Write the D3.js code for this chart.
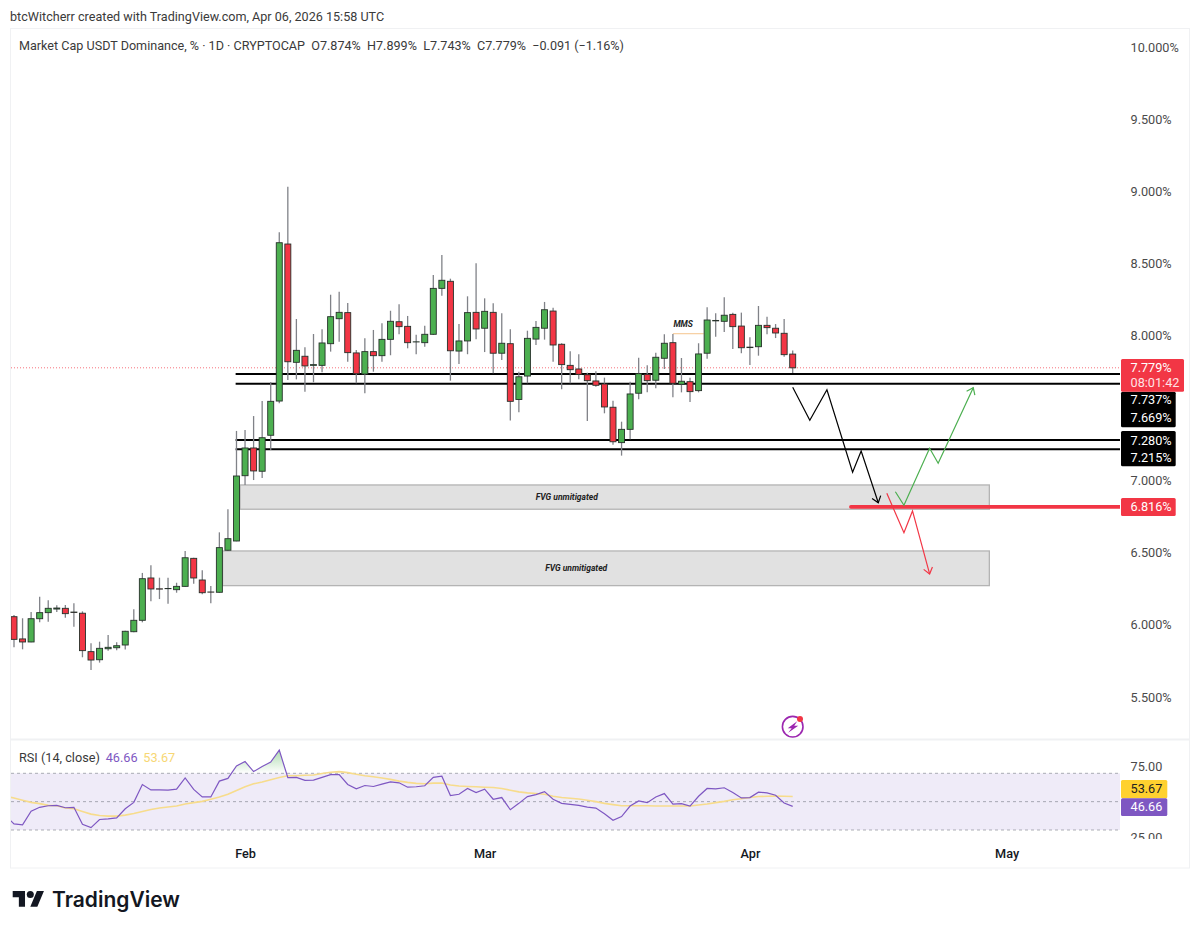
<!DOCTYPE html>
<html>
<head>
<meta charset="utf-8">
<script src="https://cdn.jsdelivr.net/npm/d3@7"></script>
<style>
    html, body { margin: 0; padding: 0; background: #fff; }
    text { font-family: Roboto, sans-serif; }
</style>
</head>
<body>
<svg id="chart" width="1200" height="931"></svg>
<script>
// ----- Candles, one per day from Jan 5 2026 ------------------------------
const opens = [
    6.056,5.902,5.881,6.042,6.084,6.109,6.114,6.088,6.080,5.814,
    5.758,5.834,5.841,5.860,5.952,6.031,6.324,6.249,6.250,6.243,
    6.266,6.460,6.310,6.227,6.225,6.516,6.580,7.032,7.224,7.063,
    7.312,7.549,8.636,7.817,7.859,7.796,7.796,7.946,8.119,8.161,
    7.882,7.736,7.891,7.863,7.976,8.098,8.066,7.958,7.953,8.011,
    8.329,8.378,7.895,7.965,8.163,8.053,8.163,7.880,7.946,7.560,
    7.722,7.978,8.053,8.172,7.942,7.796,7.771,7.731,7.688,7.667,
    7.506,7.261,7.353,7.603,7.734,7.693,7.845,7.953,7.665,7.683,
    7.621,7.880,8.104,8.101,8.149,8.068,7.922,7.925,8.073,8.053,
    8.018,7.874
];
const highs = [
    6.068,6.045,6.088,6.194,6.170,6.135,6.137,6.149,6.093,5.872,
    5.883,5.929,5.879,5.959,6.107,6.359,6.412,6.326,6.326,6.291,
    6.511,6.464,6.377,6.269,6.640,6.800,7.342,7.349,7.445,7.549,
    7.681,8.717,9.033,8.117,7.921,8.013,8.046,8.285,8.306,8.228,
    7.902,7.983,8.041,8.087,8.174,8.219,8.138,8.008,8.071,8.422,
    8.560,8.396,8.082,8.274,8.503,8.260,8.226,8.156,8.046,7.752,
    8.036,8.103,8.235,8.195,7.949,7.893,7.873,7.745,7.755,7.711,
    7.551,7.406,7.683,7.849,7.796,7.884,8.011,8.013,7.847,7.711,
    7.949,8.198,8.156,8.267,8.161,8.161,7.990,8.207,8.133,8.082,
    8.117,7.899
];
const lows = [
    5.844,5.830,5.879,6.017,6.021,6.088,6.049,5.987,5.775,5.687,
    5.738,5.821,5.823,5.828,5.948,6.017,6.163,6.178,6.146,6.222,
    6.264,6.284,6.211,6.149,6.222,6.513,6.578,6.968,7.002,7.016,
    7.210,7.533,7.695,7.699,7.614,7.679,7.748,7.891,7.960,7.821,
    7.672,7.603,7.752,7.821,7.866,8.011,7.914,7.873,7.925,8.006,
    8.278,7.690,7.805,7.873,7.976,7.888,7.741,7.833,7.414,7.472,
    7.672,7.937,7.974,7.821,7.630,7.672,7.699,7.411,7.648,7.464,
    7.247,7.171,7.284,7.561,7.609,7.637,7.771,7.575,7.609,7.542,
    7.609,7.842,7.994,8.027,7.909,7.880,7.798,7.863,8.011,7.985,
    7.856,7.743
];
const closes = [
    5.899,5.881,6.042,6.084,6.114,6.116,6.077,6.085,5.821,5.756,
    5.837,5.844,5.855,5.955,6.031,6.319,6.248,6.247,6.251,6.266,
    6.464,6.324,6.222,6.226,6.534,6.596,7.030,7.224,7.065,7.295,
    7.547,8.645,7.821,7.900,7.792,7.801,7.951,8.133,8.163,7.884,
    7.738,7.891,7.863,7.976,8.101,8.064,7.953,7.959,8.011,8.329,
    8.385,7.897,7.965,8.161,8.048,8.170,7.880,7.949,7.547,7.717,
    7.983,8.059,8.181,7.937,7.801,7.766,7.734,7.690,7.658,7.508,
    7.267,7.353,7.598,7.738,7.690,7.852,7.949,7.672,7.686,7.614,
    7.875,8.110,8.107,8.143,8.064,7.918,7.919,8.073,8.057,8.020,
    7.870,7.779
];

// first value of both belongs to the day before the first candle (clipped away by the pane)
const rsiValues = [
    40.2,34.3,33.6,43.3,46.0,47.1,47.4,45.7,46.0,34.0,31.7,
    37.4,37.9,38.6,45.0,49.5,62.1,58.3,58.3,58.1,58.8,
    66.7,58.6,53.3,53.3,64.5,66.4,75.2,78.3,71.2,74.8,
    77.9,86.4,66.9,67.1,65.0,65.2,67.1,69.0,69.0,62.1,
    59.0,61.4,60.7,62.4,64.0,63.3,60.2,60.5,61.2,67.1,
    67.9,54.3,55.2,59.3,56.4,58.8,51.7,52.9,44.3,48.8,
    53.6,55.0,57.1,51.7,48.8,48.1,47.4,46.2,45.5,41.4,
    36.9,39.5,46.9,50.5,49.3,53.3,55.7,48.3,48.6,46.9,
    53.8,59.3,59.0,59.8,56.4,52.6,52.9,56.7,56.2,54.5,
    49.0,46.66
];
const rsiMa = [
    53.8,52.6,51.0,49.5,48.6,47.4,47.1,45.5,45.0,43.1,41.2,
    40.2,39.8,39.8,40.5,41.7,43.1,44.5,45.5,46.2,46.9,
    48.3,49.3,50.2,51.7,53.3,55.2,57.9,60.5,62.6,63.8,
    65.5,67.1,68.3,68.3,68.6,68.8,69.8,70.7,71.2,70.5,
    69.3,68.3,67.6,66.7,65.7,64.5,63.6,62.9,62.6,63.1,
    63.1,61.7,61.0,60.7,60.5,60.2,60.0,59.3,58.1,56.9,
    56.2,55.7,55.2,53.8,52.9,52.4,51.9,51.0,50.0,48.8,
    47.9,47.1,47.1,47.1,47.1,46.9,46.9,46.9,46.9,46.9,
    47.6,48.3,49.3,50.2,51.4,52.1,52.9,53.6,53.8,54.0,
    53.8,53.67
];

// ----- Axis ticks -------
// 7.500% is not listed: in the picture it is hidden by the black price tags
const priceTicks = [5.5, 6, 6.5, 7, 8, 8.5, 9, 9.5, 10];
const rsiTicks = [25, 75];
const rsiBands = [70, 50, 30];
const monthNames = ["Feb", "Mar", "Apr", "May"];
const monthDays = [27, 55, 86, 116]; // days after Jan 5

// ----- Drawings (day index, price) -------
const levelPrices = [7.737, 7.669, 7.280, 7.215];
const supportPrice = 6.816;
const lastPrice = 7.779;

const fvgLabels = ["FVG unmitigated", "FVG unmitigated"];
const fvgStart = [26.41, 24.37];
const fvgEnd = [113.98, 113.98];
const fvgTop = [6.968, 6.511];
const fvgBottom = [6.800, 6.271];
const fvgLabelDay = [64.6, 65.7];

const blackDays = [91, 93, 95, 98, 99, 101];
const blackPrices = [7.644, 7.416, 7.627, 7.056, 7.203, 6.845];
const greenDays = [103, 104, 107, 108, 112.1];
const greenPrices = [6.921, 6.827, 7.222, 7.118, 7.641];
const redDays = [102, 104, 105, 107];
const redPrices = [6.910, 6.637, 6.788, 6.352];

const GREEN = "#4caf50";
const RED = "#f23645";
const PURPLE = "#7e57c2";
const YELLOW = "#ffd12f";
const TEXT_GREY = "#4a4a4a";
const AXIS_FONT = 12.7;

const PANE_LEFT = 11;
const PANE_RIGHT = 1120;

const x = d3.scaleLinear().domain([0, 91]).range([14, 792.7]);
const y = d3.scaleLinear().domain([10, 5.5]).range([47, 697]);
const rsiY = d3.scaleLinear().domain([70, 30]).range([773.3, 830]);

const svg = d3.select("#chart");
const defs = svg.append("defs");

defs.append("clipPath").attr("id", "priceClip").append("rect")
    .attr("x", PANE_LEFT).attr("y", 29).attr("width", PANE_RIGHT - PANE_LEFT).attr("height", 709);
defs.append("clipPath").attr("id", "rsiClip").append("rect")
    .attr("x", PANE_LEFT).attr("y", 741).attr("width", PANE_RIGHT - PANE_LEFT).attr("height", 98);
defs.append("clipPath").attr("id", "rsiAxisClip").append("rect")
    .attr("x", PANE_RIGHT).attr("y", 741).attr("width", 69).attr("height", 98);
defs.append("clipPath").attr("id", "overboughtClip").append("rect")
    .attr("x", PANE_LEFT).attr("y", 741).attr("width", PANE_RIGHT - PANE_LEFT).attr("height", rsiY(70) - 741);

const grad = defs.append("linearGradient").attr("id", "overboughtFill")
    .attr("gradientUnits", "userSpaceOnUse")
    .attr("x1", 0).attr("x2", 0).attr("y1", rsiY(90)).attr("y2", rsiY(70));
grad.append("stop").attr("offset", 0).attr("stop-color", GREEN).attr("stop-opacity", 0.55);
grad.append("stop").attr("offset", 1).attr("stop-color", GREEN).attr("stop-opacity", 0);

// ----- Frame -------
svg.append("rect")
    .attr("x", 10.5).attr("y", 28.5).attr("width", 1179).attr("height", 839.5)
    .attr("fill", "#fff").attr("stroke", "#f0f1f3");
svg.append("line")
    .attr("x1", 11).attr("x2", 1189).attr("y1", 739.5).attr("y2", 739.5)
    .attr("stroke", "#f0f1f3").attr("stroke-width", 2);

svg.append("text").attr("x", 10).attr("y", 21)
    .attr("font-size", 12.6).attr("fill", "#3a3a3a")
    .text("btcWitcherr created with TradingView.com, Apr 06, 2026 15:58 UTC");
svg.append("text").attr("x", 19).attr("y", 49.5)
    .attr("font-size", 12.6).attr("fill", "#3a3a3a")
    .attr("xml:space", "preserve")
    .text("Market Cap USDT Dominance, % \u00b7 1D \u00b7 CRYPTOCAP\u00a0\u00a0O7.874%\u00a0\u00a0H7.899%\u00a0\u00a0L7.743%\u00a0\u00a0C7.779%\u00a0\u00a0\u22120.091 (\u22121.16%)");

// ----- Price pane -------
const pricePane = svg.append("g").attr("clip-path", "url(#priceClip)");

pricePane.append("line")
    .attr("x1", PANE_LEFT).attr("x2", PANE_RIGHT)
    .attr("y1", y(lastPrice)).attr("y2", y(lastPrice))
    .attr("stroke", RED).attr("stroke-opacity", 0.7).attr("stroke-dasharray", "1,2");

pricePane.selectAll(".fvg")
    .data(fvgLabels)
    .enter().append("rect")
    .attr("class", "fvg")
    .attr("x", (d, i) => x(fvgStart[i]))
    .attr("width", (d, i) => x(fvgEnd[i]) - x(fvgStart[i]))
    .attr("y", (d, i) => y(fvgTop[i]))
    .attr("height", (d, i) => y(fvgBottom[i]) - y(fvgTop[i]))
    .attr("fill", "#e1e1e1").attr("stroke", "#b4b4b4").attr("stroke-width", 1.3);

pricePane.selectAll(".fvg-label")
    .data(fvgLabels)
    .enter().append("text")
    .attr("class", "fvg-label")
    .attr("x", (d, i) => x(fvgLabelDay[i]))
    .attr("y", (d, i) => (y(fvgTop[i]) + y(fvgBottom[i])) / 2)
    .attr("dy", ".35em")
    .attr("text-anchor", "middle")
    .attr("font-size", 8.5).attr("font-weight", 700).attr("font-style", "italic").attr("fill", "#222")
    .text(d => d);

pricePane.selectAll(".level")
    .data(levelPrices)
    .enter().append("line")
    .attr("class", "level")
    .attr("x1", x(25.9)).attr("x2", PANE_RIGHT + 1)
    .attr("y1", d => y(d)).attr("y2", d => y(d))
    .attr("stroke", "#000").attr("stroke-width", 2);

pricePane.append("line")
    .attr("x1", x(97.8)).attr("x2", PANE_RIGHT + 1)
    .attr("y1", y(supportPrice)).attr("y2", y(supportPrice))
    .attr("stroke", RED).attr("stroke-width", 3.6).attr("stroke-linecap", "round");

// MMS marker
pricePane.append("line")
    .attr("x1", x(77)).attr("x2", x(80.6))
    .attr("y1", y(8.015)).attr("y2", y(8.015))
    .attr("stroke", "#f5c48c").attr("stroke-width", 1);
pricePane.append("text")
    .attr("x", x(78.2)).attr("y", y(8.015) - 7)
    .attr("text-anchor", "middle")
    .attr("font-size", 8.5).attr("font-weight", 700).attr("font-style", "italic").attr("fill", "#222")
    .text("MMS");

function drawArrow(days, prices, color) {
    const pts = days.map((d, i) => [x(d), y(prices[i])]);
    pricePane.append("path")
        .attr("d", d3.line()(pts))
        .attr("fill", "none").attr("stroke", color).attr("stroke-width", 1.2);

    // arrow head, from the direction of the last leg
    const tip = pts[pts.length - 1];
    const prev = pts[pts.length - 2];
    const angle = Math.atan2(prev[1] - tip[1], prev[0] - tip[0]);
    const head = [-0.65, 0.65].map(a => [tip[0] + 7.5 * Math.cos(angle + a), tip[1] + 7.5 * Math.sin(angle + a)]);
    pricePane.append("path")
        .attr("d", d3.line()([head[0], tip, head[1]]))
        .attr("fill", "none").attr("stroke", color).attr("stroke-width", 1.2);
}
drawArrow(blackDays, blackPrices, "#000");
drawArrow(greenDays, greenPrices, GREEN);
drawArrow(redDays, redPrices, RED);

// candles sit on top of the drawings
const candles = pricePane.selectAll(".candle")
    .data(closes)
    .enter().append("g")
    .attr("class", "candle");

candles.append("line")
    .attr("x1", (d, i) => x(i)).attr("x2", (d, i) => x(i))
    .attr("y1", (d, i) => y(highs[i])).attr("y2", (d, i) => y(lows[i]))
    .attr("stroke", "#808288").attr("stroke-width", 1.3);

candles.append("rect")
    .attr("x", (d, i) => x(i) - 3)
    .attr("width", 6)
    .attr("y", (d, i) => y(Math.max(opens[i], closes[i])))
    .attr("height", (d, i) => Math.abs(y(opens[i]) - y(closes[i])))
    .attr("fill", (d, i) => closes[i] >= opens[i] ? GREEN : RED)
    .attr("stroke", "#26312a").attr("stroke-width", 0.9);

const priceAxis = d3.axisRight(y)
    .tickValues(priceTicks)
    .tickSize(0)
    .tickPadding(0)
    .tickFormat(d => d3.format(".3f")(d) + "%");

svg.append("g")
    .attr("transform", "translate(1130.5,0)")
    .call(priceAxis)
    .call(g => g.select(".domain").remove())
    .call(g => g.selectAll("text").attr("font-family", "Roboto").attr("font-size", AXIS_FONT).attr("fill", TEXT_GREY));

// ----- Price tags on the axis -------
function priceTag(top, bottom, right, fill, lines) {
    svg.append("rect")
        .attr("x", PANE_RIGHT + 1).attr("y", top)
        .attr("width", right - PANE_RIGHT - 1).attr("height", bottom - top)
        .attr("rx", 1.5)
        .attr("fill", fill);
    lines.forEach(l => {
        svg.append("text")
            .attr("x", 1130.5).attr("y", l.y).attr("dy", ".35em")
            .attr("font-size", AXIS_FONT).attr("fill", l.color || "#fff")
            .text(l.text);
    });
}
priceTag(391.7, 427.3, 1175.7, "#000", [{text: "7.737%", y: 400}, {text: "7.669%", y: 418}]);
priceTag(359, 391.7, 1184, RED, [{text: "7.779%", y: 368}, {text: "08:01:42", y: 383, color: "#ffe3e5"}]);
priceTag(431, 466.3, 1175.7, "#000", [{text: "7.280%", y: 440.3}, {text: "7.215%", y: 457.6}]);
priceTag(498, 516, 1175.7, RED, [{text: "6.816%", y: 507}]);

// ----- Flash icon -------
const icon = svg.append("g").attr("transform", "translate(792.7,726.7)");
icon.append("circle").attr("r", 10.3).attr("fill", "#fff").attr("stroke", "#9c27b0").attr("stroke-width", 1.6);
icon.append("path").attr("d", "M4.5,-5.5 L-5,1.5 L-1,1.5 L-4.5,6 L5.5,-1 L1.5,-1 Z").attr("fill", "#9c27b0");
icon.append("circle").attr("cx", 7.3).attr("cy", -7.6).attr("r", 3).attr("fill", RED);

// ----- RSI pane -------
svg.append("rect")
    .attr("x", PANE_LEFT).attr("width", PANE_RIGHT - PANE_LEFT)
    .attr("y", rsiY(70)).attr("height", rsiY(30) - rsiY(70))
    .attr("fill", PURPLE).attr("fill-opacity", 0.12);

svg.selectAll(".band")
    .data(rsiBands)
    .enter().append("line")
    .attr("class", "band")
    .attr("x1", PANE_LEFT).attr("x2", PANE_RIGHT)
    .attr("y1", d => rsiY(d)).attr("y2", d => rsiY(d))
    .attr("stroke", "#787b86").attr("stroke-opacity", 0.6).attr("stroke-dasharray", "3,3");

const rsiPane = svg.append("g").attr("clip-path", "url(#rsiClip)");

rsiPane.append("g").attr("clip-path", "url(#overboughtClip)")
    .append("path")
    .attr("d", d3.area().x((d, i) => x(i - 1)).y0(rsiY(70)).y1(d => rsiY(d))(rsiValues))
    .attr("fill", "url(#overboughtFill)");

const rsiLine = d3.line().x((d, i) => x(i - 1)).y(d => rsiY(d));

rsiPane.append("path")
    .attr("d", rsiLine(rsiMa))
    .attr("fill", "none").attr("stroke", "#f7dc8c").attr("stroke-width", 1.6);
rsiPane.append("path")
    .attr("d", rsiLine(rsiValues))
    .attr("fill", "none").attr("stroke", PURPLE).attr("stroke-width", 1.2);

const rsiLegend = svg.append("g").attr("font-size", AXIS_FONT);
rsiLegend.append("text").attr("x", 19).attr("y", 761.5).attr("fill", "#3a3a3a").text("RSI (14, close)");
rsiLegend.append("text").attr("x", 105.7).attr("y", 761.5).attr("fill", PURPLE).text("46.66");
rsiLegend.append("text").attr("x", 143.3).attr("y", 761.5).attr("fill", "#f7d774").text("53.67");

const rsiAxis = d3.axisRight(rsiY)
    .tickValues(rsiTicks)
    .tickSize(0)
    .tickPadding(0)
    .tickFormat(d3.format(".2f"));

svg.append("g").attr("clip-path", "url(#rsiAxisClip)")
    .append("g")
    .attr("transform", "translate(1130.5,0)")
    .call(rsiAxis)
    .call(g => g.select(".domain").remove())
    .call(g => g.selectAll("text").attr("font-family", "Roboto").attr("font-size", AXIS_FONT).attr("fill", TEXT_GREY));

priceTag(780, 798.3, 1167.3, YELLOW, [{text: "53.67", y: 789, color: "#222"}]);
priceTag(798.3, 816, 1167.3, PURPLE, [{text: "46.66", y: 807, color: "#fff"}]);

// ----- Time axis -------
const timeAxis = d3.axisBottom(x)
    .tickValues(monthDays)
    .tickSize(0)
    .tickPadding(0)
    .tickFormat((d, i) => monthNames[i]);

svg.append("g")
    .attr("transform", "translate(0,848.5)")
    .call(timeAxis)
    .call(g => g.select(".domain").remove())
    .call(g => g.selectAll("text")
        .attr("font-family", "Roboto").attr("font-size", 12.7).attr("font-weight", 500).attr("fill", "#131722"));

// ----- Logo -------
const logo = svg.append("g").attr("transform", "translate(12.7,887.5) scale(0.88)").attr("fill", "#131722");
logo.append("path").attr("d", "M14 22H7V11H0V4h14v18zM28 22h-8l7.5-18h8L28 22z");
logo.append("circle").attr("cx", 20).attr("cy", 8).attr("r", 4);

svg.append("text")
    .attr("x", 52).attr("y", 906.7)
    .attr("style", "font-family:Inter,sans-serif")
    .attr("font-size", 21).attr("font-weight", 600).attr("fill", "#131722")
    .text("TradingView");
</script>
</body>
</html>
